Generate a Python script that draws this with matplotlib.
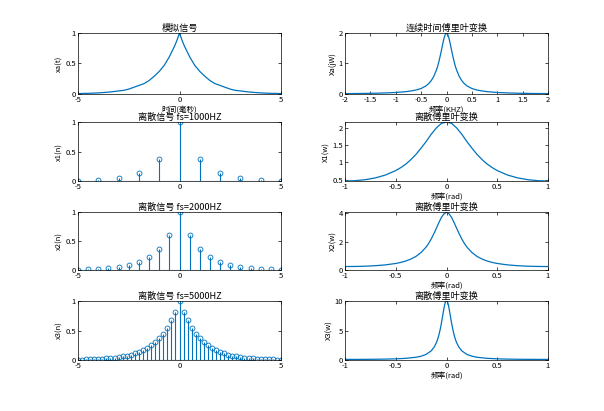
import matplotlib.pyplot as plt
from matplotlib.ticker import FormatStrFormatter
import numpy as np

plt.rcParams['font.family'] = ['Noto Sans CJK SC', 'DejaVu Sans']
plt.rcParams['font.size'] = 5.5
C = '#0072BD'

# analog signal xa(t), t>=0 half (symmetric)
t_half = [0, 0.125, 0.25, 0.5, 0.75, 1, 1.25, 1.5, 1.75, 2, 2.25, 2.5, 2.75, 3, 3.25, 3.5, 3.75, 4, 4.25, 4.5, 4.75, 5]
xa_half = [1, .88, .78, .61, .47, .37, .29, .22, .17, .14, .11, .08, .06, .05, .04, .03, .024, .018, .014, .011, .009, .007]

# continuous FT, f>=0 half (kHz)
f_half = [0, .025, .05, .075, .1, .125, .15, .175, .2, .25, .3, .35, .4, .5, .6, .7, .8, 1.0, 1.25, 1.5, 1.75, 2.0]
Xa_half = [2, 1.95, 1.82, 1.64, 1.43, 1.24, 1.06, .905, .78, .58, .44, .343, .27, .18, .13, .10, .077, .05, .032, .022, .016, .013]

# sampled signals, n>=0 half
x1_half = [1, .368, .135, .050, .018, .007]
x2_half = [1, .607, .368, .223, .135, .082, .050, .030, .018, .011, .007]
x3_half = [1, .819, .670, .549, .449, .368, .301, .247, .202, .165, .135, .111, .091,
           .074, .061, .050, .041, .033, .027, .022, .018, .015, .012, .010, .008, .007]

# DTFT magnitudes, w/pi >= 0 half
u1 = [0, .05, .1, .15, .2, .25, .3, .35, .4, .45, .5, .6, .7, .8, .9, 1]
X1_half = [2.16, 2.12, 1.99, 1.81, 1.60, 1.41, 1.23, 1.08, .95, .848, .762, .635, .552, .50, .471, .462]
u2 = [0, .025, .05, .075, .1, .125, .15, .175, .2, .25, .3, .35, .4, .45, .5, .6, .7, .8, .9, 1]
X2_half = [4.08, 3.97, 3.72, 3.35, 2.95, 2.56, 2.20, 1.89, 1.63, 1.24, .965, .774, .636, .536, .462, .363, .304, .269, .251, .245]
u3 = [0, .01, .02, .03, .04, .05, .06, .07, .08, .09, .1, .12, .15, .2, .25, .3, .4, .5, .6, .7, .8, .9, 1]
X3_half = [9.97, 9.9, 9.24, 8.29, 7.27, 6.26, 5.37, 4.59, 3.93, 3.38, 2.93, 2.24, 1.56, .956, .645, .467, .284, .198, .152, .125, .110, .102, .10]


def mirror(x, y):
    x = np.array(x, float); y = np.array(y, float)
    return np.concatenate([-x[:0:-1], x]), np.concatenate([y[:0:-1], y])


fig = plt.figure(figsize=(6.04, 4.11), dpi=100)
W, H = 604, 411
L = [78, 345]; AW = 203
rows = [(33, 94), (122, 181), (212, 270), (301, 360)]
axs = [[fig.add_axes([l / W, 1 - b / H, AW / W, (b - t) / H]) for l in L] for t, b in rows]


def style(ax):
    ax.tick_params(direction='in', length=2, width=0.5, pad=1.5, top=True, right=True)
    ax.xaxis.set_major_formatter(FormatStrFormatter('%g'))
    ax.yaxis.set_major_formatter(FormatStrFormatter('%g'))
    for s in ax.spines.values():
        s.set_linewidth(0.5)


# row 1
ax = axs[0][0]
x, y = mirror(t_half, xa_half)
ax.plot(x, y, color=C, lw=0.9)
ax.set_xlim(-5, 5); ax.set_ylim(0, 1)
ax.set_xticks([-5, 0, 5]); ax.set_yticks([0, 0.5, 1])
ax.set_title('模拟信号', pad=1.5); ax.set_xlabel('时间(毫秒)', labelpad=1); ax.set_ylabel('xa(t)', labelpad=1)
ax = axs[0][1]
x, y = mirror(f_half, Xa_half)
ax.plot(x, y, color=C, lw=0.9)
ax.set_xlim(-2, 2); ax.set_ylim(0, 2)
ax.set_xticks([-2, -1.5, -1, -0.5, 0, 0.5, 1, 1.5, 2]); ax.set_yticks([0, 1, 2])
ax.set_title('连续时间傅里叶变换', pad=1.5); ax.set_xlabel('频率(KHZ)', labelpad=1); ax.set_ylabel('Xa(jW)', labelpad=1)

stems = [(x1_half, 1.0, 'fs=1000HZ', 'x1(n)'), (x2_half, 0.5, 'fs=2000HZ', 'x2(n)'), (x3_half, 0.2, 'fs=5000HZ', 'x3(n)')]
dtft = [(u1, X1_half, 'X1(w)'), (u2, X2_half, 'X2(w)'), (u3, X3_half, 'X3(w)')]
for i in range(3):
    vals, step, fs, yl = stems[i]
    ax = axs[i + 1][0]
    n = np.arange(len(vals)) * step
    x, y = mirror(n, vals)
    ml, sl, bl = ax.stem(x, y, basefmt=' ')
    plt.setp(sl, color=C, lw=0.8)
    plt.setp(ml, color=C, markerfacecolor='none', markersize=3.5, markeredgewidth=0.6)
    ax.axhline(0, color=C, lw=0.8)
    ax.set_xlim(-5, 5); ax.set_ylim(0, 1)
    ax.set_xticks([-5, 0, 5]); ax.set_yticks([0, 0.5, 1])
    ax.set_title('离散信号 ' + fs, pad=1.5); ax.set_ylabel(yl, labelpad=1)

    u, X, yl2 = dtft[i]
    ax = axs[i + 1][1]
    x, y = mirror(u, X)
    ax.plot(x, y, color=C, lw=0.9)
    ax.set_xlim(-1, 1)
    ax.set_xticks([-1, -0.5, 0, 0.5, 1])
    ax.set_title('离散傅里叶变换', pad=1.5); ax.set_xlabel('频率(rad)', labelpad=1); ax.set_ylabel(yl2, labelpad=1)
axs[1][1].set_ylim(min(X1_half), max(X1_half)); axs[1][1].set_yticks([0.5, 1, 1.5, 2])
axs[2][1].set_ylim(0, 4.1); axs[2][1].set_yticks([0, 2, 4])
axs[3][1].set_ylim(0, 10); axs[3][1].set_yticks([0, 5, 10])

for r in axs:
    for ax in r:
        style(ax)

fig.savefig('out.png', dpi=100)
